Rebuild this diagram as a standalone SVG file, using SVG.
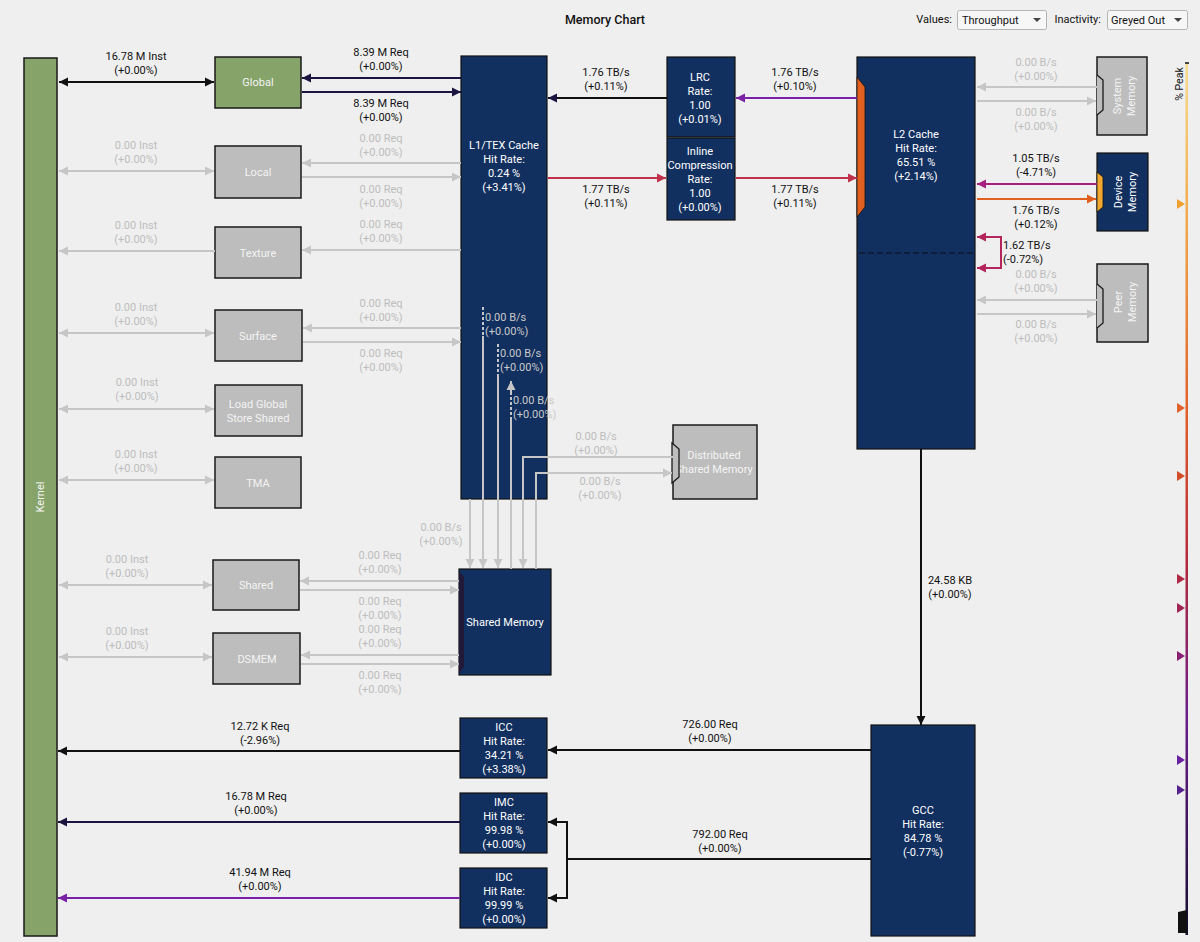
<svg xmlns="http://www.w3.org/2000/svg" width="1200" height="942" viewBox="0 0 1200 942">
<style>
text{font-family:Roboto,"Liberation Sans",sans-serif;font-size:11px;text-anchor:middle}
.lbl{fill:#111}
.ina{fill:#bdbdbd}
.wt{fill:#ffffff}
.gw{fill:#f4f4f4}
.il{fill:#c9c9c9}
.navy{fill:#12305f;stroke:#111;stroke-width:1.2}
.grey{fill:#bdbdbd;stroke:#1a1a1a;stroke-width:1.5}
.green{fill:#86a36a;stroke:#1a1a1a;stroke-width:1.5}
.c{fill:none;stroke-width:2}
.k{stroke:#111}
.nv{stroke:#1c1440}
.g{stroke:#c6c6c6}
.r{stroke:#c2304c}
.p{stroke:#7a22a6}
.m{stroke:#a3207f}
.o{stroke:#e2601f}
.cr{stroke:#b4255c}
</style>
<defs>
<marker id="aK" viewBox="0 0 10 10" refX="10" refY="5" markerWidth="9" markerHeight="11" markerUnits="userSpaceOnUse" orient="auto-start-reverse"><path d="M0,0L10,5L0,10z" fill="#111"/></marker>
<marker id="aN" viewBox="0 0 10 10" refX="10" refY="5" markerWidth="9" markerHeight="11" markerUnits="userSpaceOnUse" orient="auto-start-reverse"><path d="M0,0L10,5L0,10z" fill="#1c1440"/></marker>
<marker id="aG" viewBox="0 0 10 10" refX="10" refY="5" markerWidth="9" markerHeight="11" markerUnits="userSpaceOnUse" orient="auto-start-reverse"><path d="M0,0L10,5L0,10z" fill="#c6c6c6"/></marker>
<marker id="aR" viewBox="0 0 10 10" refX="10" refY="5" markerWidth="9" markerHeight="11" markerUnits="userSpaceOnUse" orient="auto-start-reverse"><path d="M0,0L10,5L0,10z" fill="#c2304c"/></marker>
<marker id="aP" viewBox="0 0 10 10" refX="10" refY="5" markerWidth="9" markerHeight="11" markerUnits="userSpaceOnUse" orient="auto-start-reverse"><path d="M0,0L10,5L0,10z" fill="#7a22a6"/></marker>
<marker id="aM" viewBox="0 0 10 10" refX="10" refY="5" markerWidth="9" markerHeight="11" markerUnits="userSpaceOnUse" orient="auto-start-reverse"><path d="M0,0L10,5L0,10z" fill="#a3207f"/></marker>
<marker id="aO" viewBox="0 0 10 10" refX="10" refY="5" markerWidth="9" markerHeight="11" markerUnits="userSpaceOnUse" orient="auto-start-reverse"><path d="M0,0L10,5L0,10z" fill="#e2601f"/></marker>
<marker id="aC" viewBox="0 0 10 10" refX="10" refY="5" markerWidth="9" markerHeight="11" markerUnits="userSpaceOnUse" orient="auto-start-reverse"><path d="M0,0L10,5L0,10z" fill="#b4255c"/></marker>
<linearGradient id="peak" gradientUnits="userSpaceOnUse" x1="0" y1="63" x2="0" y2="935">
<stop offset="0" stop-color="#f7dc90"/>
<stop offset="0.18" stop-color="#f2a848"/>
<stop offset="0.4" stop-color="#e0602a"/>
<stop offset="0.58" stop-color="#b0283e"/>
<stop offset="0.75" stop-color="#6a1e8a"/>
<stop offset="1" stop-color="#140c30"/>
</linearGradient>
</defs>
<rect x="0" y="0" width="1200" height="942" fill="#efefef"/>

<g id="header">
<text x="605" y="24" style="font-size:12.5px;font-weight:500" class="lbl">Memory Chart</text>
<text x="952" y="23" style="text-anchor:end" class="lbl">Values:</text>
<rect x="957.5" y="10.5" width="89" height="19" rx="2" fill="#f7f7f7" stroke="#b5b5b5"/>
<text x="962" y="24" style="text-anchor:start" class="lbl">Throughput</text>
<path d="M1033,18L1041,18L1037,22z" fill="#444"/>
<text x="1101" y="23" style="text-anchor:end" class="lbl">Inactivity:</text>
<rect x="1107.5" y="10.5" width="80" height="19" rx="2" fill="#f7f7f7" stroke="#b5b5b5"/>
<text x="1111" y="24" style="text-anchor:start" class="lbl">Greyed Out</text>
<path d="M1174,18L1182,18L1178,22z" fill="#444"/>
</g>

<g id="peak-gauge">
<rect x="1185.5" y="63" width="2.5" height="872" fill="url(#peak)"/>
<line x1="1185" y1="63" x2="1189" y2="63" stroke="#111" stroke-width="1.5"/>
<text transform="translate(1183,84) rotate(-90)" class="lbl" style="font-size:10.5px">% Peak</text>
<path d="M1177,199L1185,204L1177,209z" fill="#f0a030"/>
<path d="M1177,403L1185,408L1177,413z" fill="#e0622a"/>
<path d="M1177,471L1185,476L1177,481z" fill="#d24c28"/>
<path d="M1177,574L1185,579L1177,584z" fill="#b02a44"/>
<path d="M1177,603L1185,608L1177,613z" fill="#a02556"/>
<path d="M1177,651L1185,656L1177,661z" fill="#8a1f74"/>
<path d="M1177,755L1185,760L1177,765z" fill="#6a209e"/>
<path d="M1177,785L1185,790L1177,795z" fill="#56208e"/>
<path d="M1178,912L1187,910L1187,933L1178,933z" fill="#111"/>
</g>

<g id="kernel">
<rect x="24" y="58" width="33" height="878" class="green"/>
<text transform="translate(44,497) rotate(-90)" class="gw">Kernel</text>
</g>
<g id="global">
<rect x="215" y="57" width="86" height="51" class="green"/>
<text x="258" y="86" class="gw">Global</text>
</g>
<g id="local">
<rect x="215" y="146" width="86" height="52" class="grey"/>
<text x="258" y="176" class="gw">Local</text>
</g>
<g id="texture">
<rect x="215" y="227" width="86" height="51" class="grey"/>
<text x="258" y="257" class="gw">Texture</text>
</g>
<g id="surface">
<rect x="215" y="310" width="87" height="51" class="grey"/>
<text x="258" y="340" class="gw">Surface</text>
</g>
<g id="load-global-store-shared">
<rect x="215" y="385" width="87" height="51" class="grey"/>
<text x="258" y="408" class="gw">Load Global</text>
<text x="258" y="422" class="gw">Store Shared</text>
</g>
<g id="tma">
<rect x="215" y="457" width="86" height="51" class="grey"/>
<text x="258" y="487" class="gw">TMA</text>
</g>
<g id="shared">
<rect x="213" y="560" width="86" height="50" class="grey"/>
<text x="256" y="589" class="gw">Shared</text>
</g>
<g id="dsmem">
<rect x="213" y="633" width="87" height="51" class="grey"/>
<text x="257" y="663" class="gw">DSMEM</text>
</g>
<g id="l1tex">
<rect x="461" y="56" width="86" height="443" class="navy"/>
<text x="504" y="149" class="wt">L1/TEX Cache</text>
<text x="504" y="163" class="wt">Hit Rate:</text>
<text x="504" y="177" class="wt">0.24 %</text>
<text x="504" y="191" class="wt">(+3.41%)</text>
</g>
<g id="shared-memory">
<rect x="459" y="569" width="92" height="106" class="navy"/>
<path d="M459,571L464,577L464,667L459,673z" fill="#221838"/>
<text x="505" y="626" class="wt">Shared Memory</text>
</g>
<g id="distributed-shared-memory">
<rect x="673" y="425" width="84" height="74" class="grey"/>
<text x="714" y="459" class="gw">Distributed</text>
<text x="714" y="473" class="gw">Shared Memory</text>
<path d="M672,443L679,449L679,477L672,483z" fill="#bdbdbd" stroke="#1a1a1a" stroke-width="1.3"/>
</g>
<g id="lrc">
<rect x="667" y="57" width="68" height="80" class="navy"/>
<text x="700" y="81" class="wt">LRC</text>
<text x="700" y="95" class="wt">Rate:</text>
<text x="700" y="109" class="wt">1.00</text>
<text x="700" y="123" class="wt">(+0.01%)</text>
</g>
<g id="inline-compression">
<rect x="667" y="138" width="68" height="82" class="navy"/>
<text x="700" y="155" class="wt">Inline</text>
<text x="700" y="169" class="wt">Compression</text>
<text x="700" y="183" class="wt">Rate:</text>
<text x="700" y="197" class="wt">1.00</text>
<text x="700" y="211" class="wt">(+0.00%)</text>
</g>
<g id="l2cache">
<rect x="857" y="57" width="118" height="392" class="navy"/>
<line x1="859" y1="253" x2="973" y2="253" stroke="#0a0a14" stroke-width="1.2" stroke-dasharray="6,3"/>
<path d="M857,77L865,87L865,207L857,217z" fill="#e2601f" stroke="#111" stroke-width="0.8"/>
<text x="916" y="138" class="wt">L2 Cache</text>
<text x="916" y="152" class="wt">Hit Rate:</text>
<text x="916" y="166" class="wt">65.51 %</text>
<text x="916" y="180" class="wt">(+2.14%)</text>
</g>
<g id="system-memory">
<rect x="1097" y="57" width="50" height="78" class="grey"/>
<path d="M1097,75L1103,80L1103,110L1097,115" fill="#bdbdbd" stroke="#1a1a1a" stroke-width="1.3"/>
<text transform="translate(1122,96) rotate(-90)" class="gw"><tspan x="0" y="-1">System</tspan><tspan x="0" y="13">Memory</tspan></text>
</g>
<g id="device-memory">
<rect x="1097" y="153" width="51" height="78" class="navy"/>
<path d="M1097,172L1103,177L1103,207L1097,212z" fill="#f0a830" stroke="#111" stroke-width="0.8"/>
<text transform="translate(1123,192) rotate(-90)" class="wt"><tspan x="0" y="-1">Device</tspan><tspan x="0" y="13">Memory</tspan></text>
</g>
<g id="peer-memory">
<rect x="1097" y="264" width="51" height="78" class="grey"/>
<path d="M1097,284L1103,289L1103,323L1097,328" fill="#bdbdbd" stroke="#1a1a1a" stroke-width="1.3"/>
<text transform="translate(1123,302) rotate(-90)" class="gw"><tspan x="0" y="-1">Peer</tspan><tspan x="0" y="13">Memory</tspan></text>
</g>
<g id="gcc">
<rect x="871" y="725" width="104" height="211" class="navy"/>
<text x="923" y="814" class="wt">GCC</text>
<text x="923" y="828" class="wt">Hit Rate:</text>
<text x="923" y="842" class="wt">84.78 %</text>
<text x="923" y="856" class="wt">(-0.77%)</text>
</g>
<g id="icc">
<rect x="460" y="718" width="87" height="60" class="navy"/>
<text x="504" y="731" class="wt">ICC</text>
<text x="504" y="745" class="wt">Hit Rate:</text>
<text x="504" y="759" class="wt">34.21 %</text>
<text x="504" y="773" class="wt">(+3.38%)</text>
</g>
<g id="imc">
<rect x="460" y="793" width="87" height="60" class="navy"/>
<text x="504" y="806" class="wt">IMC</text>
<text x="504" y="820" class="wt">Hit Rate:</text>
<text x="504" y="834" class="wt">99.98 %</text>
<text x="504" y="848" class="wt">(+0.00%)</text>
</g>
<g id="idc">
<rect x="460" y="868" width="87" height="60" class="navy"/>
<text x="504" y="881" class="wt">IDC</text>
<text x="504" y="895" class="wt">Hit Rate:</text>
<text x="504" y="909" class="wt">99.99 %</text>
<text x="504" y="923" class="wt">(+0.00%)</text>
</g>

<g id="connectors">
<line x1="59" y1="82" x2="214" y2="82" class="c k" marker-start="url(#aK)" marker-end="url(#aK)"/>
<text x="136" y="60" class="lbl">16.78 M Inst</text><text x="136" y="74" class="lbl">(+0.00%)</text>
<line x1="461" y1="78" x2="302" y2="78" class="c nv" marker-end="url(#aN)"/>
<line x1="302" y1="92" x2="461" y2="92" class="c nv" marker-end="url(#aN)"/>
<text x="381" y="56" class="lbl">8.39 M Req</text><text x="381" y="70" class="lbl">(+0.00%)</text>
<text x="381" y="107" class="lbl">8.39 M Req</text><text x="381" y="121" class="lbl">(+0.00%)</text>
<line x1="59" y1="171" x2="214" y2="171" class="c g" marker-start="url(#aG)" marker-end="url(#aG)"/>
<text x="136" y="149" class="ina">0.00 Inst</text><text x="136" y="163" class="ina">(+0.00%)</text>
<line x1="461" y1="163" x2="302" y2="163" class="c g" marker-end="url(#aG)"/>
<line x1="302" y1="177" x2="461" y2="177" class="c g" marker-end="url(#aG)"/>
<text x="381" y="142" class="ina">0.00 Req</text><text x="381" y="156" class="ina">(+0.00%)</text>
<text x="381" y="193" class="ina">0.00 Req</text><text x="381" y="207" class="ina">(+0.00%)</text>
<line x1="215" y1="251" x2="59" y2="251" class="c g" marker-end="url(#aG)"/>
<text x="136" y="229" class="ina">0.00 Inst</text><text x="136" y="243" class="ina">(+0.00%)</text>
<line x1="461" y1="250" x2="302" y2="250" class="c g" marker-end="url(#aG)"/>
<text x="381" y="228" class="ina">0.00 Req</text><text x="381" y="242" class="ina">(+0.00%)</text>
<line x1="59" y1="333" x2="214" y2="333" class="c g" marker-start="url(#aG)" marker-end="url(#aG)"/>
<text x="136" y="311" class="ina">0.00 Inst</text><text x="136" y="325" class="ina">(+0.00%)</text>
<line x1="461" y1="328" x2="303" y2="328" class="c g" marker-end="url(#aG)"/>
<line x1="303" y1="342" x2="461" y2="342" class="c g" marker-end="url(#aG)"/>
<text x="381" y="307" class="ina">0.00 Req</text><text x="381" y="321" class="ina">(+0.00%)</text>
<text x="381" y="357" class="ina">0.00 Req</text><text x="381" y="371" class="ina">(+0.00%)</text>
<line x1="59" y1="409" x2="214" y2="409" class="c g" marker-start="url(#aG)" marker-end="url(#aG)"/>
<text x="137" y="386" class="ina">0.00 Inst</text><text x="137" y="400" class="ina">(+0.00%)</text>
<line x1="59" y1="480" x2="214" y2="480" class="c g" marker-start="url(#aG)" marker-end="url(#aG)"/>
<text x="136" y="458" class="ina">0.00 Inst</text><text x="136" y="472" class="ina">(+0.00%)</text>
<line x1="59" y1="585" x2="212" y2="585" class="c g" marker-start="url(#aG)" marker-end="url(#aG)"/>
<text x="127" y="563" class="ina">0.00 Inst</text><text x="127" y="577" class="ina">(+0.00%)</text>
<line x1="459" y1="581" x2="300" y2="581" class="c g" marker-end="url(#aG)"/>
<line x1="300" y1="590" x2="459" y2="590" class="c g" marker-end="url(#aG)"/>
<text x="380" y="559" class="ina">0.00 Req</text><text x="380" y="573" class="ina">(+0.00%)</text>
<text x="380" y="605" class="ina">0.00 Req</text><text x="380" y="619" class="ina">(+0.00%)</text>
<line x1="59" y1="657" x2="212" y2="657" class="c g" marker-start="url(#aG)" marker-end="url(#aG)"/>
<text x="127" y="635" class="ina">0.00 Inst</text><text x="127" y="649" class="ina">(+0.00%)</text>
<line x1="459" y1="655" x2="301" y2="655" class="c g" marker-end="url(#aG)"/>
<line x1="301" y1="664" x2="459" y2="664" class="c g" marker-end="url(#aG)"/>
<text x="380" y="633" class="ina">0.00 Req</text><text x="380" y="647" class="ina">(+0.00%)</text>
<text x="380" y="679" class="ina">0.00 Req</text><text x="380" y="693" class="ina">(+0.00%)</text>
<line x1="667" y1="98" x2="548" y2="98" class="c k" marker-end="url(#aN)"/>
<text x="606" y="76" class="lbl">1.76 TB/s</text><text x="606" y="90" class="lbl">(+0.11%)</text>
<line x1="548" y1="178" x2="666" y2="178" class="c r" marker-end="url(#aR)"/>
<text x="606" y="193" class="lbl">1.77 TB/s</text><text x="606" y="207" class="lbl">(+0.11%)</text>
<line x1="857" y1="98" x2="736" y2="98" class="c p" marker-end="url(#aP)"/>
<text x="795" y="76" class="lbl">1.76 TB/s</text><text x="795" y="90" class="lbl">(+0.10%)</text>
<line x1="736" y1="178" x2="857" y2="178" class="c r" marker-end="url(#aR)"/>
<text x="795" y="193" class="lbl">1.77 TB/s</text><text x="795" y="207" class="lbl">(+0.11%)</text>
<line x1="1097" y1="87" x2="977" y2="87" class="c g" marker-end="url(#aG)"/>
<line x1="977" y1="101" x2="1096" y2="101" class="c g" marker-end="url(#aG)"/>
<text x="1036" y="66" class="ina">0.00 B/s</text><text x="1036" y="80" class="ina">(+0.00%)</text>
<text x="1036" y="116" class="ina">0.00 B/s</text><text x="1036" y="130" class="ina">(+0.00%)</text>
<line x1="1097" y1="184" x2="977" y2="184" class="c m" marker-end="url(#aM)"/>
<line x1="977" y1="199" x2="1096" y2="199" class="c o" marker-end="url(#aO)"/>
<text x="1036" y="162" class="lbl">1.05 TB/s</text><text x="1036" y="176" class="lbl">(-4.71%)</text>
<text x="1036" y="214" class="lbl">1.76 TB/s</text><text x="1036" y="228" class="lbl">(+0.12%)</text>
<polyline points="977,268 1001,268 1001,237 977,237" class="c cr" marker-start="url(#aC)" marker-end="url(#aC)"/>
<text x="1003" y="249" class="lbl" style="text-anchor:start">1.62 TB/s</text><text x="1003" y="263" class="lbl" style="text-anchor:start">(-0.72%)</text>
<line x1="1097" y1="300" x2="977" y2="300" class="c g" marker-end="url(#aG)"/>
<line x1="977" y1="314" x2="1096" y2="314" class="c g" marker-end="url(#aG)"/>
<text x="1036" y="278" class="ina">0.00 B/s</text><text x="1036" y="292" class="ina">(+0.00%)</text>
<text x="1036" y="328" class="ina">0.00 B/s</text><text x="1036" y="342" class="ina">(+0.00%)</text>
<line x1="470" y1="499" x2="470" y2="568" class="c g" marker-end="url(#aG)"/>
<text x="441" y="531" class="ina">0.00 B/s</text><text x="441" y="545" class="ina">(+0.00%)</text>
<line x1="483" y1="307" x2="483" y2="336" stroke="#c6c6c6" stroke-width="2" stroke-dasharray="3,2"/>
<line x1="483" y1="336" x2="483" y2="568" class="c g" marker-end="url(#aG)"/>
<text x="485" y="321" class="il" style="text-anchor:start">0.00 B/s</text><text x="485" y="335" class="il" style="text-anchor:start">(+0.00%)</text>
<line x1="498" y1="344" x2="498" y2="374" stroke="#c6c6c6" stroke-width="2" stroke-dasharray="3,2"/>
<line x1="498" y1="374" x2="498" y2="568" class="c g" marker-end="url(#aG)"/>
<text x="500" y="357" class="il" style="text-anchor:start">0.00 B/s</text><text x="500" y="371" class="il" style="text-anchor:start">(+0.00%)</text>
<line x1="511" y1="569" x2="511" y2="420" class="c g"/>
<line x1="511" y1="420" x2="511" y2="392" stroke="#c6c6c6" stroke-width="2" stroke-dasharray="3,2"/>
<line x1="511" y1="392" x2="511" y2="381" class="c g" marker-end="url(#aG)"/>
<text x="513" y="404" class="il" style="text-anchor:start">0.00 B/s</text><text x="513" y="418" class="il" style="text-anchor:start">(+0.00%)</text>
<polyline points="673,457 523,457 523,568" class="c g" marker-end="url(#aG)"/>
<polyline points="536,569 536,473 672,473" class="c g" marker-end="url(#aG)"/>
<text x="596" y="440" class="ina">0.00 B/s</text><text x="596" y="454" class="ina">(+0.00%)</text>
<text x="600" y="485" class="ina">0.00 B/s</text><text x="600" y="499" class="ina">(+0.00%)</text>
<line x1="921" y1="449" x2="921" y2="725" class="c k" marker-end="url(#aK)"/>
<text x="950" y="584" class="lbl">24.58 KB</text><text x="950" y="598" class="lbl">(+0.00%)</text>
<line x1="871" y1="750" x2="548" y2="750" class="c k" marker-end="url(#aK)"/>
<text x="710" y="728" class="lbl">726.00 Req</text><text x="710" y="742" class="lbl">(+0.00%)</text>
<polyline points="871,859 567,859" class="c k"/>
<polyline points="567,859 567,822 548,822" class="c k" marker-end="url(#aK)"/>
<polyline points="567,859 567,898 548,898" class="c k" marker-end="url(#aK)"/>
<text x="720" y="838" class="lbl">792.00 Req</text><text x="720" y="852" class="lbl">(+0.00%)</text>
<line x1="460" y1="751" x2="58" y2="751" class="c k" marker-end="url(#aK)"/>
<text x="260" y="730" class="lbl">12.72 K Req</text><text x="260" y="744" class="lbl">(-2.96%)</text>
<line x1="460" y1="822" x2="58" y2="822" class="c nv" marker-end="url(#aN)"/>
<text x="256" y="800" class="lbl">16.78 M Req</text><text x="256" y="814" class="lbl">(+0.00%)</text>
<line x1="460" y1="898" x2="58" y2="898" class="c p" marker-end="url(#aP)"/>
<text x="260" y="876" class="lbl">41.94 M Req</text><text x="260" y="890" class="lbl">(+0.00%)</text>
</g>
</svg>
